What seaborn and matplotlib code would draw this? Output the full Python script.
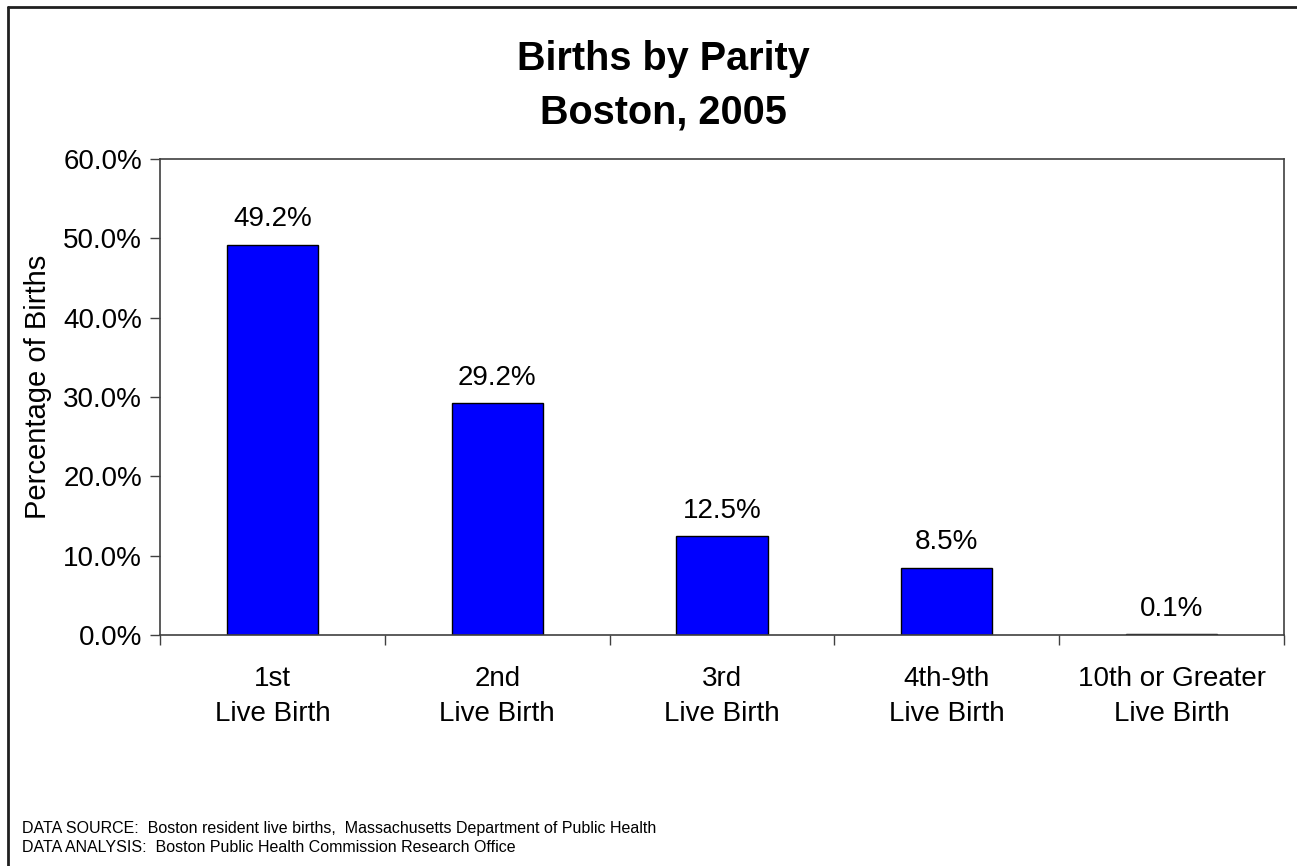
import matplotlib
matplotlib.use("Agg")
import matplotlib.pyplot as plt
import seaborn as sns
import pandas as pd
from matplotlib.lines import Line2D
from matplotlib.ticker import FuncFormatter

# values
categories = ["1st\nLive Birth", "2nd\nLive Birth", "3rd\nLive Birth",
              "4th-9th\nLive Birth", "10th or Greater\nLive Birth"]
percent = [49.2, 29.2, 12.5, 8.5, 0.1]
y_ticks = [0, 10, 20, 30, 40, 50, 60]

title_lines = ["Births by Parity", "Boston, 2005"]
y_label = "Percentage of Births"
footer = ("DATA SOURCE:  Boston resident live births,  Massachusetts Department of Public Health\n"
          "DATA ANALYSIS:  Boston Public Health Commission Research Office")

sns.set_style("white")
plt.rcParams['font.family'] = ['Liberation Sans', 'DejaVu Sans']
plt.rcParams.update({"text.color": "black", "axes.labelcolor": "black",
                     "xtick.color": "black", "ytick.color": "black"})

df = pd.DataFrame({"parity": categories, "pct": percent})

W, H = 1297, 866
fig = plt.figure(figsize=(W / 100, H / 100), dpi=100)
ax = fig.add_axes([160 / W, 1 - 635 / H, (1284 - 160) / W, (635 - 159) / H])

sns.barplot(data=df, x="parity", y="pct", ax=ax, color="#0000FF",
            width=0.405, edgecolor="black", linewidth=1.0, saturation=1)

ax.set_ylim(0, 60)
ax.set_xlim(-0.5, len(categories) - 0.5)
ax.set_yticks(y_ticks)
ax.yaxis.set_major_formatter(FuncFormatter(lambda v, p: f"{v:.1f}%"))
ax.tick_params(axis="y", labelsize=20, length=7, width=1, color="#404040",
               direction="out", left=True, pad=6)
ax.set_ylabel(y_label, fontsize=21)
ax.yaxis.set_label_coords(-0.096, 0.522)
ax.set_xlabel("")

# category ticks sit between the bars
ax.set_xticks([i - 0.5 for i in range(len(categories) + 1)], minor=True)
ax.tick_params(axis="x", which="minor", length=7, width=1, color="#404040",
               direction="out", bottom=True)
ax.tick_params(axis="x", which="major", length=0, labelsize=20, pad=22)
ax.set_xticks(range(len(categories)))
ax.set_xticklabels(categories, linespacing=1.45)

for s in ax.spines.values():
    s.set_color("#404040")
    s.set_linewidth(1.2)

for i, v in enumerate(percent):
    ax.text(i, v + 2.3, f"{v:.1f}%", ha="center", va="baseline", fontsize=20)

for line, base in zip(title_lines, [70, 124]):
    fig.text(663 / W, 1 - base / H, line, ha="center", va="baseline",
             fontsize=28.5, fontweight="bold")

fig.text(22 / W, 1 - 838 / H, footer, ha="left", va="center", fontsize=11.5,
         linespacing=1.3)

# outer chart border (only left and top edges show in the reference)
fig.add_artist(Line2D([8 / W, 8 / W], [0, 1 - 7 / H], transform=fig.transFigure,
                      color="#202020", linewidth=2))
fig.add_artist(Line2D([8 / W, 1], [1 - 7 / H, 1 - 7 / H], transform=fig.transFigure,
                      color="#202020", linewidth=2))

fig.savefig("out.png", dpi=100, facecolor="white")
